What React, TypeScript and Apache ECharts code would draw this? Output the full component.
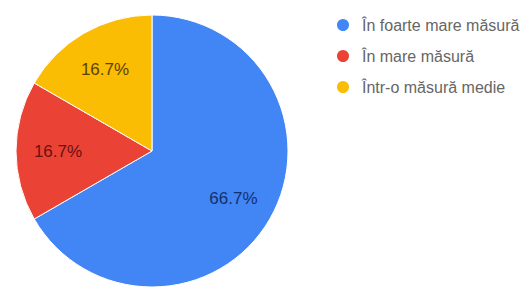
import React, { useEffect, useRef } from "react";
import * as echarts from "echarts";

const categories = ["În foarte mare măsură", "În mare măsură", "Într-o măsură medie"];
const values = [4, 1, 1];
const colors = ["#4285f4", "#ea4335", "#fbbc04"];
const labelColors = ["#15306e", "#6b1010", "#5a4300"];

export default function App() {
  const ref = useRef<HTMLDivElement>(null);
  useEffect(() => {
    if (!ref.current) return;
    const chart = echarts.init(ref.current, undefined, { renderer: "svg" });
    const total = values.reduce((a, b) => a + b, 0);
    chart.setOption({
      animation: false,
      color: colors,
      legend: {
        orient: "vertical",
        left: 330,
        top: 12,
        icon: "circle",
        itemWidth: 14,
        itemHeight: 14,
        itemGap: 15,
        data: categories,
        textStyle: {
          fontFamily: "Liberation Sans, Arial, sans-serif",
          fontSize: 16,
          color: "#666",
          padding: [0, 0, 0, 7],
        },
      },
      series: [
        {
          type: "pie",
          center: [152, 151],
          radius: [0, 136],
          startAngle: 90,
          clockwise: true,
          label: { show: false },
          labelLine: { show: false },
          itemStyle: { borderColor: "#fff", borderWidth: 1 },
          data: categories.map((n, i) => ({ name: n, value: values[i] })),
        },
        {
          type: "pie",
          center: [152, 151],
          radius: [46, 136],
          startAngle: 90,
          clockwise: true,
          silent: true,
          legendHoverLink: false,
          itemStyle: { color: "transparent" },
          label: {
            show: true,
            position: "inside",
            fontFamily: "Liberation Sans, Arial, sans-serif",
            fontSize: 17,
            formatter: (p: any) => ((p.value / total) * 100).toFixed(1) + "%",
          },
          labelLine: { show: false },
          data: categories.map((n, i) => ({
            name: n,
            value: values[i],
            label: { color: labelColors[i] },
          })),
        },
      ],
    });
    return () => chart.dispose();
  }, []);
  return (
    <div
      ref={ref}
      style={{ position: "fixed", left: 0, top: 0, width: 530, height: 287, background: "#fff" }}
    />
  );
}
